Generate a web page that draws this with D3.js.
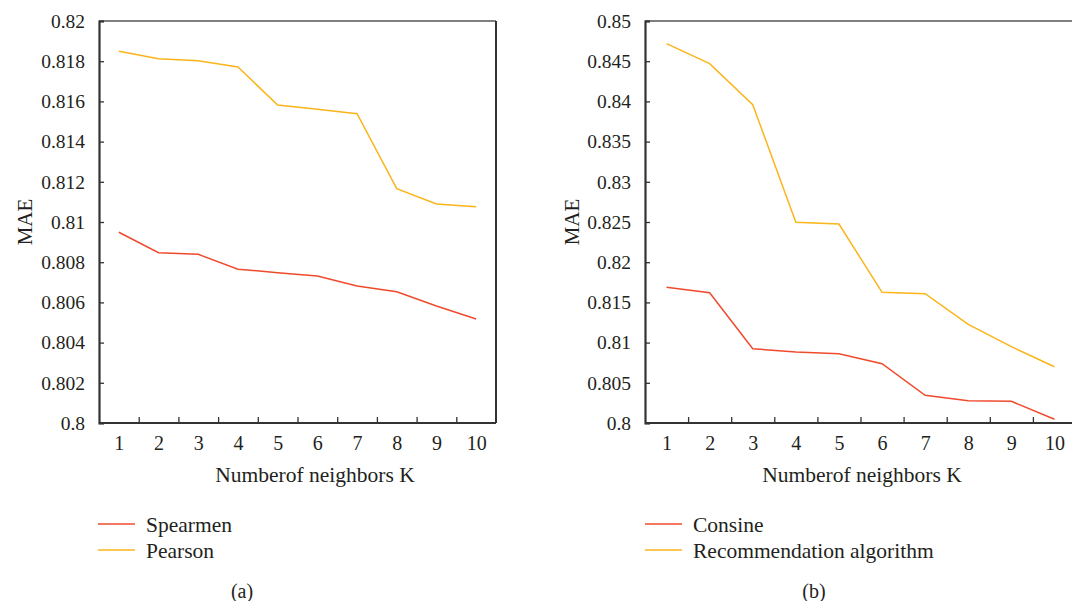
<!DOCTYPE html>
<html>
<head>
<meta charset="utf-8">
<script src="https://cdn.jsdelivr.net/npm/d3@7"></script>
<style>
  body { margin: 0; background: #fff; }
  svg { display: block; }
  text { font-family: "Liberation Serif", "DejaVu Serif", serif; fill: #231f20; }
</style>
</head>
<body>
<div id="image"></div>
<script>
// data
var kValues = [1, 2, 3, 4, 5, 6, 7, 8, 9, 10];

var spearmen = [0.80949, 0.80847, 0.80839, 0.80765, 0.80748, 0.80731, 0.80682, 0.80653, 0.80582, 0.80517];
var pearson  = [0.81849, 0.81812, 0.81802, 0.81771, 0.81582, 0.81561, 0.81539, 0.81166, 0.81090, 0.81076];

var consine  = [0.81688, 0.81621, 0.80924, 0.80883, 0.80862, 0.80738, 0.80344, 0.80278, 0.80270, 0.80046];
var recomm   = [0.84718, 0.84469, 0.83959, 0.82496, 0.82475, 0.81625, 0.81608, 0.81227, 0.80949, 0.80700];

var ticksA = [0.8, 0.802, 0.804, 0.806, 0.808, 0.81, 0.812, 0.814, 0.816, 0.818, 0.82];
var ticksB = [0.8, 0.805, 0.81, 0.815, 0.82, 0.825, 0.83, 0.835, 0.84, 0.845, 0.85];

var seriesA = ["Spearmen", "Pearson"];
var seriesB = ["Consine", "Recommendation algorithm"];
var colors = ["#f04a2c", "#fbb41a"];

var svg = d3.select("#image").append("svg")
    .attr("width", 1072)
    .attr("height", 601);

function drawPanel(opt) {
    var g = svg.append("g")
        .attr("transform", "translate(" + opt.left + "," + opt.top + ")");

    var x = d3.scaleLinear().domain([0.5, 10.5]).range([0, opt.width]);
    var y = d3.scaleLinear().domain([opt.ticks[0], opt.ticks[opt.ticks.length - 1]]).range([opt.height, 0]);

    // frame top / right
    g.append("line")
        .attr("x1", 0).attr("x2", opt.frameWidth)
        .attr("y1", 0).attr("y2", 0)
        .attr("stroke", "#555").attr("stroke-width", 1.6);
    if (opt.frameWidth == opt.width) {
        g.append("line")
            .attr("x1", opt.width).attr("x2", opt.width)
            .attr("y1", 0).attr("y2", opt.height)
            .attr("stroke", "#333").attr("stroke-width", 2);
    }

    // y axis, ticks pointing inward
    var yAxis = g.append("g")
        .call(d3.axisLeft(y).tickValues(opt.ticks).tickSize(-5).tickPadding(14)
            .tickFormat(function(d) { return +d.toFixed(3); }));
    yAxis.select(".domain").attr("stroke", "#333").attr("stroke-width", 2.2);
    yAxis.selectAll(".tick line").attr("stroke", "#333").attr("stroke-width", 1.3);
    yAxis.selectAll("text").style("font-size", "19.5px").attr("fill", "#231f20")
        .style("font-family", "'Liberation Serif', serif");

    // x axis: marks between the categories
    var xMarks = g.append("g")
        .attr("transform", "translate(0," + opt.height + ")")
        .call(d3.axisBottom(x).tickValues(kValues.slice(0, 9).map(function(k) { return k + 0.5; }))
            .tickSize(-6).tickFormat(""));
    xMarks.select(".domain").attr("stroke", "#333").attr("stroke-width", 2.2)
        .attr("d", "M0,0H" + opt.frameWidth);
    xMarks.selectAll(".tick line").attr("stroke", "#333").attr("stroke-width", 1.3);

    var xLabels = g.append("g")
        .attr("transform", "translate(0," + opt.height + ")")
        .call(d3.axisBottom(x).tickValues(kValues).tickSize(0).tickPadding(13));
    xLabels.select(".domain").remove();
    xLabels.selectAll("text").style("font-size", "20px").attr("fill", "#231f20")
        .style("font-family", "'Liberation Serif', serif");

    // lines
    var line = d3.line()
        .x(function(d, i) { return x(kValues[i]); })
        .y(function(d) { return y(d); });

    opt.data.forEach(function(s, i) {
        g.append("path")
            .datum(s)
            .attr("fill", "none")
            .attr("stroke", colors[i])
            .attr("stroke-width", 1.5)
            .attr("d", line);
    });

    // axis titles
    g.append("text")
        .attr("transform", "translate(" + opt.yTitleX + "," + (opt.height / 2) + ") rotate(-90)")
        .attr("text-anchor", "middle")
        .attr("dy", "0.35em")
        .style("font-size", "21px")
        .text("MAE");

    g.append("text")
        .attr("x", opt.xTitleX)
        .attr("y", opt.height + 59)
        .attr("text-anchor", "middle")
        .style("font-size", "21.5px")
        .text("Numberof neighbors K");

    // legend
    var legend = g.selectAll(".legend")
        .data(opt.names)
        .enter().append("g")
        .attr("class", "legend")
        .attr("transform", function(d, i) { return "translate(" + opt.legendX + "," + (opt.height + 101 + i * 26) + ")"; });

    legend.append("line")
        .attr("x1", 0).attr("x2", 37)
        .attr("stroke", function(d, i) { return colors[i]; })
        .attr("stroke-width", 1.5);

    legend.append("text")
        .attr("x", 48)
        .attr("dy", "0.35em")
        .style("font-size", "21.5px")
        .text(function(d) { return d; });

    g.append("text")
        .attr("x", opt.capX)
        .attr("y", opt.height + 175)
        .attr("text-anchor", "middle")
        .style("font-size", "20px")
        .text(opt.caption);
}

drawPanel({
    left: 99, top: 21, width: 397, height: 402, frameWidth: 397,
    ticks: ticksA, data: [spearmen, pearson], names: seriesA,
    yTitleX: -74, xTitleX: 216, legendX: -1, capX: 143, caption: "(a)"
});

drawPanel({
    left: 645, top: 21, width: 431, height: 402, frameWidth: 440,
    ticks: ticksB, data: [consine, recomm], names: seriesB,
    yTitleX: -73, xTitleX: 217, legendX: 0, capX: 169, caption: "(b)"
});
</script>
</body>
</html>
